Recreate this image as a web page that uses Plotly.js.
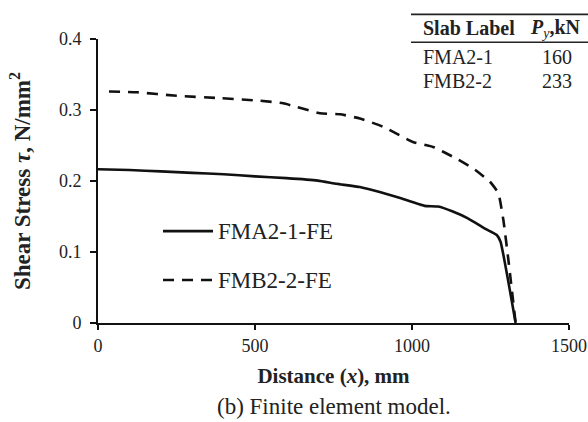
<!DOCTYPE html>
<html>
<head>
<meta charset="utf-8">
<script src="https://cdn.plot.ly/plotly-3.0.1.min.js"></script>
<style>
html,body{margin:0;padding:0;background:#fff;}
#chart{width:588px;height:422px;}
</style>
</head>
<body>
<div id="chart"></div>
<script>
// Series data (distance x in mm, shear stress in N/mm^2)
const seriesNames = ["FMA2-1-FE", "FMB2-2-FE"];
const fma2X = [0, 100, 200, 300, 400, 500, 600, 700, 760, 834, 900, 965, 1040, 1083, 1130, 1178, 1232, 1270, 1282, 1330];
const fma2Y = [0.2165, 0.2155, 0.2135, 0.2115, 0.2095, 0.2065, 0.2040, 0.2005, 0.1960, 0.1915, 0.1840, 0.1756, 0.1650, 0.1640, 0.1570, 0.1474, 0.1330, 0.1240, 0.1145, 0];
const fmb2X = [35, 123, 251, 378, 516, 590, 707, 771, 834, 908, 1003, 1067, 1131, 1194, 1248, 1275, 1291, 1307, 1330];
const fmb2Y = [0.326, 0.325, 0.320, 0.317, 0.313, 0.3094, 0.2953, 0.294, 0.288, 0.2765, 0.255, 0.248, 0.234, 0.218, 0.199, 0.183, 0.145, 0.0887, 0];

// Inset table
const slabLabels = ["FMA2-1", "FMB2-2"];
const pyValues = [160, 233];

// Axis ticks
const xTicks = [0, 500, 1000, 1500];
const yTicks = [0, 0.1, 0.2, 0.3, 0.4];

const serif = "Liberation Serif";
const dashStyle = "11px,8px";
const lineStyles = [
  {color: "#111", width: 2.6},
  {color: "#111", width: 2.6, dash: dashStyle}
];

const traces = [
  {x: fma2X, y: fma2Y, name: seriesNames[0], type: "scatter", mode: "lines",
   line: Object.assign({shape: "spline", smoothing: 0.4}, lineStyles[0]), showlegend: false},
  {x: fmb2X, y: fmb2Y, name: seriesNames[1], type: "scatter", mode: "lines",
   line: Object.assign({shape: "spline", smoothing: 0.4}, lineStyles[1]), showlegend: false}
];

// paper coords helpers (plot area: x 98..569, y 38.7..323)
const px = v => (v - 98) / 471;
const py = v => (323 - v) / 284.3;

const annotations = [
  {text: "<b>Slab Label</b>", x: px(421), y: py(28), xanchor: "left", yanchor: "middle"},
  {text: "<b><i>P</i></b><sub><i>y</i></sub><b>,kN</b>", x: px(555), y: py(28), xanchor: "center", yanchor: "middle"},
  {text: "(b) Finite element model.", x: px(334), y: py(421), xanchor: "center", yanchor: "bottom", font: {family: serif, size: 23, color: "#222"}}
];
slabLabels.forEach((s, i) => {
  annotations.push({text: s, x: px(421), y: py(57 + i * 23.5), xanchor: "left", yanchor: "middle"});
  annotations.push({text: String(pyValues[i]), x: px(557), y: py(57 + i * 23.5), xanchor: "center", yanchor: "middle"});
});

const shapes = [
  {type: "line", xref: "paper", yref: "paper", x0: px(411), x1: px(590), y0: py(14), y1: py(14), line: {color: "#222", width: 1.6}},
  {type: "line", xref: "paper", yref: "paper", x0: px(411), x1: px(590), y0: py(42), y1: py(42), line: {color: "#222", width: 1.6}}
];

// Key (line sample + label) for each series
seriesNames.forEach((name, i) => {
  const yc = py(231 + i * 49);
  shapes.push({type: "line", xref: "paper", yref: "paper", x0: px(163), x1: px(213), y0: yc, y1: yc, line: lineStyles[i]});
  annotations.push({text: name, x: px(216), y: yc, xanchor: "left", yanchor: "middle", font: {family: serif, size: 23, color: "#222"}});
});

annotations.forEach(a => {
  a.xref = "paper"; a.yref = "paper"; a.showarrow = false;
  if (!a.font) a.font = {family: serif, size: 20, color: "#222"};
});

const layout = {
  width: 588, height: 422,
  margin: {l: 98, r: 19, t: 39, b: 99},
  paper_bgcolor: "#fff", plot_bgcolor: "#fff",
  font: {family: serif, color: "#222", size: 18},
  showlegend: false,
  xaxis: {
    range: [0, 1500], tickvals: xTicks, ticktext: xTicks.map(String),
    showgrid: false, zeroline: false,
    showline: true, linecolor: "#111", linewidth: 2,
    ticks: "outside", ticklen: 5, tickwidth: 1.5, tickcolor: "#111",
    tickfont: {family: serif, size: 18, color: "#222"},
    title: {text: "<b>Distance (<i>x</i>), mm</b>", font: {family: serif, size: 21, color: "#222"}, standoff: 14},
    fixedrange: true
  },
  yaxis: {
    range: [0, 0.4], tickvals: yTicks, ticktext: ["0", "0.1", "0.2", "0.3", "0.4"],
    showgrid: false, zeroline: false,
    showline: true, linecolor: "#111", linewidth: 2,
    ticks: "outside", ticklen: 6, tickwidth: 1.5, tickcolor: "#111",
    ticklabelstandoff: 5,
    tickfont: {family: serif, size: 18, color: "#222"},
    title: {text: "<b>Shear Stress <i>τ</i>, N/mm<sup>2</sup></b>", font: {family: serif, size: 23, color: "#222"}, standoff: 22},
    fixedrange: true
  },
  annotations: annotations,
  shapes: shapes
};

Plotly.newPlot("chart", traces, layout, {staticPlot: true, displayModeBar: false});
</script>
</body>
</html>
